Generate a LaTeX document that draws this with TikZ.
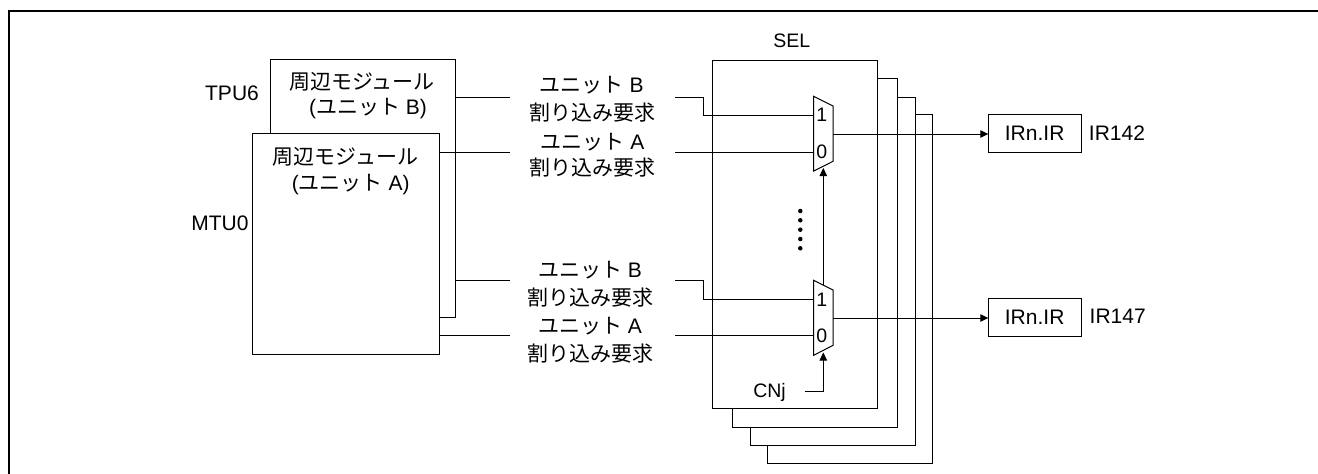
\documentclass[tikz,border=0pt]{standalone}
\usepackage{fontspec}
\setmainfont{Liberation Sans}
\newfontfamily\jpf{Noto Sans CJK JP}
\newcommand{\jp}[1]{{\jpf #1}}
\usetikzlibrary{arrows.meta,calc}
\tikzset{
  wire/.style={draw=black,line width=1pt},
  arrowwire/.style={wire,-{Triangle[length=8pt,width=7.5pt]}},
  panel/.style={draw=black,fill=white,line width=1pt,inner sep=0pt,outer sep=0pt},
  txt/.style={inner sep=0pt,outer sep=0pt,font=\fontsize{21}{24}\selectfont},
  txts/.style={inner sep=0pt,outer sep=0pt,font=\fontsize{19.5}{22}\selectfont},
  mux/.style={draw=black,fill=white,line width=1pt},
  frameline/.style={draw=black,line width=2pt},
  dotmark/.style={circle,fill=black,inner sep=0pt,minimum size=4.5pt},
}
\newcommand{\rectnode}[6][panel]{%
  \node[#1,minimum width=#5pt-#3pt,minimum height=#6pt-#4pt] (#2) at ({(#3+#5)/2},{(#4+#6)/2}) {};}
\begin{document}
\begin{tikzpicture}[x=1pt,y=-1pt]
\useasboundingbox (0,0) rectangle (1318,474);
\fill[white] (0,0) rectangle (1318,474);
% frame: left and top edges only
\coordinate (fbl) at (9,474);
\coordinate (ftl) at (9,11);
\coordinate (ftr) at (1318,11);
\draw[frameline] (fbl) -- (ftl) -- (ftr);
% SEL stack
\rectnode{sel4}{767.3}{114.7}{932.3}{463}
\rectnode{sel3}{750.3}{97.3}{915.7}{445.3}
\rectnode{sel2}{732.3}{78.7}{897.7}{427.3}
\rectnode{sel1}{712.3}{60.3}{877.7}{408.7}
\node[txts,anchor=base] (sellabel) at (791.7,47.3) {SEL};
% peripheral boxes
\rectnode{boxB}{270.3}{59.7}{455}{317}
\rectnode{boxA}{252.3}{133.7}{439.7}{354.3}
\node[txt] (bt1) at (362,81.5) {\jp{周辺モジュール}};
\node[txt] (bt2) at (368,109) {(\jp{ユニット} B)};
\node[txt] (at1) at (345.7,157) {\jp{周辺モジュール}};
\node[txt] (at2) at (350.7,185) {(\jp{ユニット} A)};
\node[txt,anchor=base] (tpu) at (232,100) {TPU6};
\node[txt,anchor=base] (mtu) at (220,230) {MTU0};
% request labels
\node[txt] (lb1a) at (591.7,85) {\jp{ユニット} B};
\node[txt] (lb1b) at (592,112.7) {\jp{割り込み要求}};
\node[txt] (la1a) at (592.5,141.7) {\jp{ユニット} A};
\node[txt] (la1b) at (592.5,167.7) {\jp{割り込み要求}};
\node[txt] (lb2a) at (590,270) {\jp{ユニット} B};
\node[txt] (lb2b) at (590,297.3) {\jp{割り込み要求}};
\node[txt] (la2a) at (590,325.7) {\jp{ユニット} A};
\node[txt] (la2b) at (590,353.3) {\jp{割り込み要求}};
% left stubs and right stubs around the labels
\coordinate (b1i) at (510,97.3);  \coordinate (b1o) at (675.3,97.3);
\coordinate (a1i) at (510,152.2); \coordinate (a1o) at (675.3,152.2);
\coordinate (b2i) at (510,280.3); \coordinate (b2o) at (675.3,280.3);
\coordinate (a2i) at (510,335.5); \coordinate (a2o) at (675.3,335.5);
\draw[wire] (boxB.east |- b1i) -- (b1i);
\draw[wire] (boxA.east |- a1i) -- (a1i);
\draw[wire] (boxB.east |- b2i) -- (b2i);
\draw[wire] (boxA.east |- a2i) -- (a2i);
% mux 1
\coordinate (m1tl) at (813.7,96.3);
\coordinate (m1tr) at (833,106);
\coordinate (m1br) at (833,161.3);
\coordinate (m1bl) at (813.7,171);
\coordinate (m1o) at (833,134);
\coordinate (m1i1) at (813.7,115.3);
\coordinate (m1i0) at (813.7,152.2);
\coordinate (m1c) at (823.3,168);
% mux 2
\coordinate (m2tl) at (813.7,280.3);
\coordinate (m2tr) at (833,290);
\coordinate (m2br) at (833,345.3);
\coordinate (m2bl) at (813.7,355.3);
\coordinate (m2o) at (833,318);
\coordinate (m2i1) at (813.7,299.7);
\coordinate (m2i0) at (813.7,335.5);
\coordinate (m2c) at (823.3,352.5);
\coordinate (m2top) at (823.3,285.2);
% wires into muxes
\draw[wire] (b1o) -- (703.7,97.3) -- (703.7,115.3) -- (m1i1);
\draw[wire] (a1o) -- (m1i0);
\draw[wire] (b2o) -- (703.7,280.3) -- (703.7,299.7) -- (m2i1);
\draw[wire] (a2o) -- (m2i0);
% IR boxes
\rectnode{ir1}{988.3}{114.7}{1081}{152}
\node[txt] (ir1t) at (ir1) {IRn.IR};
\rectnode{ir2}{988.3}{298.7}{1081}{336}
\node[txt] (ir2t) at (ir2) {IRn.IR};
\node[txt,anchor=base] (ir142) at (1117,140) {IR142};
\node[txt,anchor=base] (ir147) at (1117.7,323.3) {IR147};
% outputs
\draw[arrowwire] (m1o) -- (ir1.west |- m1o);
\draw[arrowwire] (m2o) -- (ir2.west |- m2o);
% mux bodies
\draw[mux] (m1tl) -- (m1tr) -- (m1br) -- (m1bl) -- cycle;
\draw[mux] (m2tl) -- (m2tr) -- (m2br) -- (m2bl) -- cycle;
% control
\coordinate (cnjs) at (805,391.7);
\draw[arrowwire] (m2top) -- (m1c);
\draw[arrowwire] (cnjs) -- (m2c |- cnjs) -- (m2c);
\node[txts] (m1l1) at (821.7,115) {1};
\node[txts] (m1l0) at (821.7,152) {0};
\node[txts] (m2l1) at (821.7,299.3) {1};
\node[txts] (m2l0) at (821.7,336) {0};
\node[txts,anchor=base] (cnj) at (769.5,397.3) {CNj};
% dots
\node[dotmark] (d1) at (800.3,211) {};
\node[dotmark] (d2) at (800.3,220.3) {};
\node[dotmark] (d3) at (800.3,229.7) {};
\node[dotmark] (d4) at (800.3,239) {};
\node[dotmark] (d5) at (800.3,248.3) {};
\end{tikzpicture}
\end{document}
